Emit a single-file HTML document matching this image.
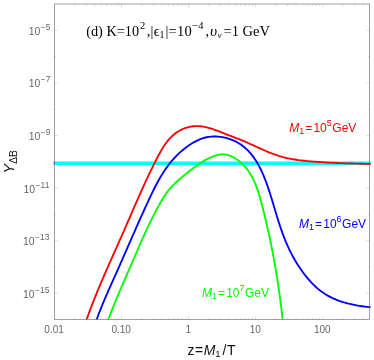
<!DOCTYPE html>
<html>
<head>
<meta charset="utf-8">
<title>chart</title>
<style>
html,body{margin:0;padding:0;background:#fff;}
body{width:374px;height:360px;overflow:hidden;font-family:"Liberation Sans",sans-serif;}
#wrap{width:374px;height:360px;will-change:transform;}
svg{display:block;}
text{font-family:"Liberation Sans",sans-serif;}
.tk{fill:#666;}
.ser,.ser text{font-family:"Liberation Serif",serif;}
.it{font-style:italic;}
</style>
</head>
<body>
<div id="wrap">
<svg width="374" height="360" viewBox="0 0 374 360">
<rect width="374" height="360" fill="#fff"/>
<defs><clipPath id="cp"><rect x="53.3" y="4.0" width="317.4" height="315.5"/></clipPath></defs>
<g clip-path="url(#cp)" fill="none" stroke-linejoin="round">
<path d="M52.5 163.34H371.5" stroke="#00ffff" stroke-width="3.55"/>
<path d="M84.42 325.99L85.03 324.16L85.65 322.33L86.28 320.51L86.92 318.68L87.57 316.86L88.22 315.03L88.89 313.21L89.56 311.39L90.24 309.57L90.92 307.76L91.62 305.94L92.31 304.12L93.02 302.31L93.73 300.49L94.45 298.68L95.18 296.87L95.91 295.06L96.64 293.25L97.39 291.44L98.13 289.64L98.88 287.83L99.64 286.03L100.40 284.22L101.16 282.42L101.93 280.62L102.70 278.82L103.48 277.02L104.25 275.22L105.04 273.42L105.82 271.63L106.61 269.83L107.39 268.03L108.18 266.24L108.98 264.45L109.77 262.65L110.57 260.86L111.36 259.07L112.16 257.28L112.96 255.49L113.75 253.71L114.55 251.92L115.35 250.13L116.15 248.35L116.95 246.56L117.74 244.78L118.54 242.99L119.33 241.21L120.13 239.43L120.92 237.65L121.71 235.87L122.50 234.09L123.28 232.31L124.07 230.53L124.85 228.75L125.62 226.97L126.40 225.20L127.17 223.42L127.94 221.64L128.71 219.87L129.48 218.10L130.25 216.32L131.02 214.55L131.79 212.78L132.55 211.00L133.32 209.23L134.09 207.46L134.86 205.69L135.63 203.92L136.41 202.15L137.18 200.38L137.96 198.61L138.74 196.84L139.52 195.07L140.31 193.31L141.10 191.54L141.89 189.77L142.69 188.01L143.49 186.24L144.29 184.47L145.10 182.71L145.92 180.94L146.74 179.18L147.57 177.41L148.41 175.65L149.25 173.88L150.10 172.12L150.95 170.36L151.81 168.59L152.68 166.83L153.56 165.07L154.45 163.30L155.35 161.54L156.25 159.78L157.16 158.02L158.09 156.25L159.02 154.50L159.98 152.75L160.95 151.01L161.95 149.29L162.98 147.60L164.05 145.93L165.15 144.30L166.30 142.71L167.50 141.16L168.75 139.66L170.05 138.21L171.40 136.83L172.80 135.51L174.26 134.26L175.76 133.08L177.33 131.99L178.94 130.98L180.60 130.06L182.31 129.22L184.06 128.48L185.85 127.84L187.67 127.29L189.52 126.84L191.39 126.49L193.28 126.24L195.19 126.10L197.10 126.06L199.02 126.13L200.94 126.29L202.86 126.55L204.77 126.89L206.67 127.31L208.56 127.80L210.45 128.34L212.32 128.94L214.19 129.58L216.04 130.26L217.89 130.96L219.74 131.68L221.57 132.41L223.41 133.14L225.23 133.86L227.05 134.57L228.87 135.27L230.68 135.97L232.48 136.66L234.29 137.35L236.09 138.05L237.88 138.75L239.68 139.46L241.47 140.19L243.26 140.92L245.05 141.68L246.84 142.46L248.63 143.25L250.42 144.05L252.21 144.86L254.00 145.67L255.79 146.49L257.58 147.31L259.38 148.13L261.18 148.93L262.98 149.73L264.78 150.52L266.59 151.30L268.40 152.05L270.22 152.79L272.04 153.50L273.87 154.19L275.70 154.84L277.54 155.46L279.39 156.05L281.24 156.60L283.10 157.12L284.97 157.59L286.84 158.03L288.73 158.44L290.61 158.82L292.50 159.17L294.40 159.49L296.31 159.78L298.22 160.06L300.13 160.31L302.05 160.54L303.97 160.75L305.90 160.95L307.83 161.13L309.77 161.30L311.70 161.46L313.65 161.61L315.59 161.75L317.54 161.89L319.49 162.02L321.44 162.15L323.40 162.27L325.35 162.38L327.31 162.49L329.27 162.60L331.23 162.69L333.19 162.79L335.16 162.88L337.12 162.96L339.08 163.05L341.04 163.12L343.01 163.20L344.97 163.27L346.93 163.34L348.89 163.40L350.85 163.46L352.81 163.52L354.76 163.58L356.71 163.64L358.67 163.69L360.61 163.74L362.56 163.79L364.50 163.84L366.44 163.89L368.38 163.94L370.31 163.98L372.24 164.03L374.16 164.08L376.08 164.12L378.00 164.17L379.91 164.22" stroke="#ff0000" stroke-width="1.85"/>
<path d="M94.48 325.93L95.18 323.83L95.90 321.74L96.64 319.64L97.39 317.55L98.17 315.45L98.96 313.36L99.77 311.27L100.59 309.18L101.42 307.09L102.27 305.00L103.13 302.92L104.00 300.83L104.89 298.75L105.78 296.67L106.68 294.59L107.58 292.51L108.50 290.43L109.41 288.35L110.34 286.27L111.26 284.20L112.19 282.12L113.13 280.05L114.06 277.98L114.99 275.90L115.92 273.83L116.85 271.76L117.78 269.69L118.70 267.63L119.62 265.56L120.53 263.49L121.45 261.43L122.36 259.36L123.26 257.30L124.17 255.23L125.08 253.17L125.98 251.11L126.88 249.05L127.78 246.99L128.68 244.93L129.58 242.87L130.48 240.81L131.38 238.75L132.28 236.69L133.18 234.64L134.09 232.58L134.99 230.52L135.89 228.47L136.80 226.41L137.71 224.36L138.62 222.30L139.54 220.25L140.45 218.20L141.37 216.14L142.30 214.09L143.22 212.04L144.16 209.99L145.09 207.94L146.03 205.88L146.98 203.83L147.93 201.78L148.88 199.73L149.84 197.68L150.81 195.63L151.79 193.59L152.78 191.55L153.79 189.52L154.81 187.49L155.84 185.48L156.90 183.48L157.97 181.49L159.07 179.52L160.19 177.56L161.34 175.63L162.52 173.71L163.72 171.82L164.96 169.95L166.23 168.10L167.54 166.28L168.88 164.49L170.27 162.73L171.69 161.00L173.16 159.31L174.67 157.65L176.22 156.02L177.82 154.44L179.46 152.89L181.15 151.39L182.88 149.93L184.65 148.51L186.46 147.14L188.31 145.81L190.20 144.54L192.13 143.32L194.10 142.16L196.11 141.08L198.16 140.09L200.24 139.20L202.36 138.42L204.52 137.77L206.71 137.26L208.93 136.87L211.18 136.62L213.43 136.49L215.70 136.48L217.96 136.59L220.22 136.82L222.47 137.16L224.70 137.61L226.91 138.17L229.09 138.83L231.23 139.59L233.32 140.44L235.37 141.40L237.35 142.44L239.28 143.57L241.13 144.78L242.91 146.08L244.62 147.45L246.26 148.90L247.84 150.42L249.35 152.01L250.79 153.66L252.18 155.37L253.52 157.13L254.79 158.95L256.02 160.82L257.19 162.73L258.32 164.69L259.40 166.68L260.43 168.71L261.43 170.77L262.39 172.86L263.31 174.98L264.19 177.11L265.05 179.26L265.87 181.42L266.67 183.60L267.44 185.78L268.19 187.96L268.92 190.14L269.63 192.32L270.33 194.49L271.01 196.66L271.68 198.82L272.34 200.98L272.99 203.13L273.63 205.28L274.27 207.42L274.91 209.56L275.55 211.69L276.19 213.82L276.83 215.94L277.48 218.05L278.13 220.17L278.80 222.28L279.48 224.38L280.17 226.48L280.87 228.57L281.59 230.66L282.34 232.75L283.10 234.83L283.88 236.91L284.70 238.98L285.53 241.05L286.40 243.12L287.30 245.18L288.23 247.24L289.20 249.30L290.20 251.35L291.24 253.39L292.32 255.43L293.43 257.46L294.57 259.47L295.75 261.47L296.95 263.45L298.20 265.41L299.47 267.34L300.77 269.26L302.10 271.14L303.46 273.00L304.84 274.82L306.26 276.61L307.70 278.36L309.17 280.07L310.67 281.74L312.20 283.36L313.76 284.94L315.36 286.47L317.00 287.95L318.67 289.38L320.39 290.74L322.15 292.05L323.95 293.30L325.80 294.49L327.70 295.61L329.64 296.66L331.63 297.66L333.65 298.59L335.71 299.47L337.81 300.29L339.93 301.06L342.08 301.77L344.26 302.44L346.46 303.06L348.67 303.64L350.90 304.17L353.15 304.67L355.40 305.12L357.66 305.54L359.92 305.93L362.19 306.28L364.45 306.61L366.70 306.90L368.95 307.17L371.18 307.42L373.40 307.65L375.61 307.86L377.79 308.05L379.95 308.23" stroke="#0000ff" stroke-width="1.85"/>
<path d="M105.94 326.03L106.57 324.27L107.21 322.51L107.86 320.76L108.51 319.02L109.17 317.27L109.83 315.53L110.50 313.79L111.17 312.05L111.86 310.32L112.54 308.59L113.23 306.86L113.93 305.13L114.63 303.41L115.33 301.69L116.04 299.97L116.75 298.25L117.47 296.53L118.19 294.82L118.91 293.11L119.63 291.39L120.36 289.68L121.09 287.97L121.83 286.26L122.56 284.56L123.30 282.85L124.04 281.14L124.78 279.44L125.52 277.73L126.26 276.03L127.01 274.32L127.75 272.62L128.50 270.91L129.24 269.21L129.99 267.50L130.73 265.79L131.48 264.09L132.22 262.38L132.96 260.67L133.70 258.96L134.45 257.25L135.19 255.54L135.93 253.83L136.67 252.12L137.41 250.41L138.15 248.70L138.90 246.98L139.64 245.28L140.39 243.57L141.14 241.86L141.90 240.15L142.65 238.45L143.41 236.75L144.18 235.05L144.95 233.35L145.72 231.66L146.50 229.96L147.29 228.28L148.08 226.59L148.88 224.91L149.68 223.23L150.50 221.56L151.31 219.89L152.14 218.22L152.98 216.56L153.82 214.90L154.68 213.25L155.54 211.61L156.41 209.97L157.29 208.33L158.19 206.71L159.09 205.08L160.01 203.47L160.93 201.86L161.87 200.26L162.83 198.67L163.81 197.09L164.81 195.53L165.84 193.99L166.91 192.48L168.02 190.99L169.17 189.54L170.37 188.11L171.62 186.73L172.91 185.38L174.24 184.06L175.59 182.76L176.97 181.50L178.37 180.26L179.78 179.04L181.19 177.84L182.60 176.66L184.01 175.50L185.41 174.35L186.81 173.21L188.21 172.08L189.63 170.95L191.07 169.83L192.52 168.72L194.01 167.60L195.52 166.49L197.07 165.38L198.65 164.28L200.26 163.20L201.89 162.14L203.55 161.12L205.23 160.14L206.92 159.21L208.63 158.33L210.36 157.51L212.10 156.77L213.85 156.10L215.60 155.52L217.36 155.04L219.13 154.67L220.89 154.43L222.65 154.33L224.41 154.40L226.17 154.63L227.90 155.02L229.63 155.55L231.32 156.22L233.00 157.01L234.63 157.91L236.23 158.91L237.79 160.01L239.30 161.18L240.76 162.41L242.15 163.71L243.49 165.04L244.76 166.42L245.97 167.84L247.12 169.29L248.21 170.77L249.25 172.29L250.24 173.84L251.18 175.42L252.07 177.03L252.92 178.66L253.73 180.32L254.50 181.99L255.22 183.69L255.92 185.41L256.58 187.15L257.22 188.90L257.82 190.67L258.41 192.45L258.97 194.24L259.51 196.04L260.03 197.84L260.54 199.66L261.04 201.47L261.52 203.29L262.00 205.11L262.47 206.93L262.94 208.75L263.41 210.57L263.86 212.39L264.32 214.21L264.76 216.03L265.20 217.84L265.64 219.66L266.07 221.48L266.50 223.30L266.92 225.11L267.34 226.93L267.75 228.75L268.16 230.57L268.56 232.38L268.96 234.20L269.35 236.02L269.74 237.84L270.12 239.65L270.50 241.47L270.87 243.29L271.24 245.11L271.60 246.93L271.96 248.75L272.32 250.57L272.67 252.39L273.01 254.21L273.35 256.03L273.69 257.85L274.02 259.68L274.35 261.50L274.67 263.33L274.99 265.15L275.31 266.98L275.62 268.80L275.93 270.63L276.23 272.46L276.53 274.29L276.82 276.12L277.11 277.95L277.40 279.79L277.68 281.62L277.96 283.46L278.23 285.29L278.50 287.13L278.77 288.97L279.03 290.81L279.29 292.65L279.55 294.49L279.80 296.34L280.05 298.18L280.29 300.03L280.53 301.88L280.77 303.73L281.00 305.58L281.23 307.44L281.46 309.29L281.68 311.15L281.90 313.01L282.12 314.87L282.33 316.73L282.54 318.59L282.74 320.46L282.95 322.33L283.15 324.20L283.34 326.07" stroke="#00ff00" stroke-width="1.85"/>
</g>
<path d="M74.68 319.50v-2.00M74.68 4.00v2.00M86.48 319.50v-2.00M86.48 4.00v2.00M94.86 319.50v-2.00M94.86 4.00v2.00M101.36 319.50v-2.00M101.36 4.00v2.00M106.66 319.50v-2.00M106.66 4.00v2.00M111.15 319.50v-2.00M111.15 4.00v2.00M115.04 319.50v-2.00M115.04 4.00v2.00M118.47 319.50v-2.00M118.47 4.00v2.00M121.54 319.50v-3.40M121.54 4.00v3.40M141.72 319.50v-2.00M141.72 4.00v2.00M153.52 319.50v-2.00M153.52 4.00v2.00M161.90 319.50v-2.00M161.90 4.00v2.00M168.39 319.50v-2.00M168.39 4.00v2.00M173.70 319.50v-2.00M173.70 4.00v2.00M178.19 319.50v-2.00M178.19 4.00v2.00M182.08 319.50v-2.00M182.08 4.00v2.00M185.50 319.50v-2.00M185.50 4.00v2.00M188.57 319.50v-3.40M188.57 4.00v3.40M208.75 319.50v-2.00M208.75 4.00v2.00M220.56 319.50v-2.00M220.56 4.00v2.00M228.93 319.50v-2.00M228.93 4.00v2.00M235.43 319.50v-2.00M235.43 4.00v2.00M240.74 319.50v-2.00M240.74 4.00v2.00M245.22 319.50v-2.00M245.22 4.00v2.00M249.11 319.50v-2.00M249.11 4.00v2.00M252.54 319.50v-2.00M252.54 4.00v2.00M255.61 319.50v-3.40M255.61 4.00v3.40M275.79 319.50v-2.00M275.79 4.00v2.00M287.59 319.50v-2.00M287.59 4.00v2.00M295.97 319.50v-2.00M295.97 4.00v2.00M302.46 319.50v-2.00M302.46 4.00v2.00M307.77 319.50v-2.00M307.77 4.00v2.00M312.26 319.50v-2.00M312.26 4.00v2.00M316.15 319.50v-2.00M316.15 4.00v2.00M319.58 319.50v-2.00M319.58 4.00v2.00M322.64 319.50v-3.40M322.64 4.00v3.40M342.82 319.50v-2.00M342.82 4.00v2.00M354.63 319.50v-2.00M354.63 4.00v2.00M363.00 319.50v-2.00M363.00 4.00v2.00M369.50 319.50v-2.00M369.50 4.00v2.00M54.50 293.21h3.40M369.50 293.21h-3.40M54.50 266.92h2.00M369.50 266.92h-2.00M54.50 240.62h3.40M369.50 240.62h-3.40M54.50 214.33h2.00M369.50 214.33h-2.00M54.50 188.04h3.40M369.50 188.04h-3.40M54.50 161.75h2.00M369.50 161.75h-2.00M54.50 135.46h3.40M369.50 135.46h-3.40M54.50 109.17h2.00M369.50 109.17h-2.00M54.50 82.88h3.40M369.50 82.88h-3.40M54.50 56.58h2.00M369.50 56.58h-2.00M54.50 30.29h3.40M369.50 30.29h-3.40" stroke="#666" stroke-width="0.22" fill="none"/>
<rect x="54.5" y="4.0" width="315.0" height="315.5" fill="none" stroke="#666" stroke-width="0.62"/>
<text x="50.4" y="34.89" text-anchor="end" class="tk" font-size="10.4">10<tspan dy="-5" dx="0.5" font-size="8.5">−5</tspan></text>
<text x="50.4" y="87.47" text-anchor="end" class="tk" font-size="10.4">10<tspan dy="-5" dx="0.5" font-size="8.5">−7</tspan></text>
<text x="50.4" y="140.06" text-anchor="end" class="tk" font-size="10.4">10<tspan dy="-5" dx="0.5" font-size="8.5">−9</tspan></text>
<text x="49.4" y="192.64" text-anchor="end" class="tk" font-size="10.4">10<tspan dy="-5" dx="0.5" font-size="8.5">−11</tspan></text>
<text x="49.4" y="245.22" text-anchor="end" class="tk" font-size="10.4">10<tspan dy="-5" dx="0.5" font-size="8.5">−13</tspan></text>
<text x="49.4" y="297.81" text-anchor="end" class="tk" font-size="10.4">10<tspan dy="-5" dx="0.5" font-size="8.5">−15</tspan></text>
<text x="54.10" y="333" text-anchor="middle" class="tk" font-size="10">0.01</text>
<text x="121.14" y="333" text-anchor="middle" class="tk" font-size="10">0.10</text>
<text x="188.17" y="333" text-anchor="middle" class="tk" font-size="10">1</text>
<text x="255.21" y="333" text-anchor="middle" class="tk" font-size="10">10</text>
<text x="322.24" y="333" text-anchor="middle" class="tk" font-size="10">100</text>
<!-- title -->
<g class="ser" font-size="14.5" fill="#000">
<text x="86.2" y="35.5" font-size="14.3">(d) K=10</text>
<text x="139.9" y="28.8" font-size="10.5">2</text>
<text x="146.7" y="35.5" letter-spacing="0.25">,|ϵ</text>
<text x="159.4" y="37.7" font-size="10">1</text>
<text x="165.4" y="35.5" letter-spacing="0.25">|=10</text>
<text x="192.3" y="29.2" font-size="10.5">−4</text>
<text x="205.6" y="35.5">,</text>
<text x="209.9" y="35.5" class="it" font-size="15.5">υ</text>
<text x="217.6" y="38" class="it" font-size="9.2">ν</text>
<text x="223.5" y="35.5">=1 GeV</text>
</g>
<!-- curve labels -->
<text x="289.2" y="132" font-size="12" fill="#ff0000"><tspan class="it">M</tspan><tspan dy="2" font-size="9">1</tspan><tspan dy="-2" dx="1.0">=</tspan><tspan dx="1.2">10</tspan><tspan dy="-6" font-size="9">5</tspan><tspan dy="6" dx="0.5">GeV</tspan></text>
<text x="299" y="228.4" font-size="12" fill="#0000ff"><tspan class="it">M</tspan><tspan dy="2" font-size="9">1</tspan><tspan dy="-2" dx="1.0">=</tspan><tspan dx="1.2">10</tspan><tspan dy="-6" font-size="9">6</tspan><tspan dy="6" dx="0.5">GeV</tspan></text>
<text x="201.9" y="297.3" font-size="12" fill="#00ff00"><tspan class="it">M</tspan><tspan dy="2" font-size="9">1</tspan><tspan dy="-2" dx="1.0">=</tspan><tspan dx="1.2">10</tspan><tspan dy="-6" font-size="9">7</tspan><tspan dy="6" dx="0.5">GeV</tspan></text>
<!-- x label -->
<text x="187.4" y="355.3" font-size="14" fill="#111">z<tspan dx="0.7">=</tspan><tspan class="it" dx="0.4">M</tspan><tspan dy="1.8" font-size="9.6">1</tspan><tspan dy="-1.8" dx="1.8">/</tspan><tspan dx="0.6">T</tspan></text>
<!-- y label -->
<g transform="translate(13.5 173.4) rotate(-90)">
<text x="0" y="0" font-size="14.5" fill="#111"><tspan class="it">Y</tspan><tspan dy="3.3" font-size="10.4" letter-spacing="-0.3">ΔB</tspan></text>
</g>
</svg>
</div>
</body>
</html>
